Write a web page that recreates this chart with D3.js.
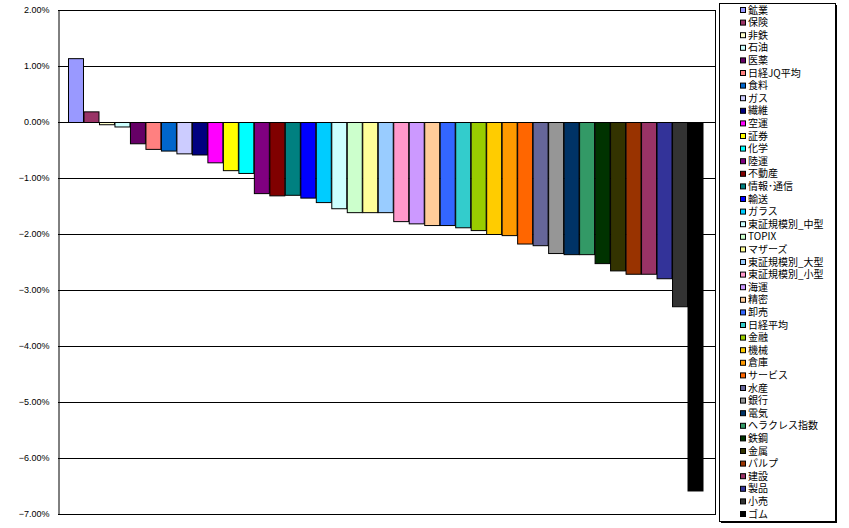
<!DOCTYPE html>
<html><head><meta charset="utf-8">
<script src="https://cdn.jsdelivr.net/npm/d3@7"></script>
<style>body{margin:0;background:#fff}svg{display:block}</style>
</head><body>
<script>
const categories = ["鉱業","保険","非鉄","石油","医薬","日経JQ平均","食料","ガス","繊維","空運","証券","化学","陸運","不動産","情報･通信","輸送","ガラス","東証規模別_中型","TOPIX","マザーズ","東証規模別_大型","東証規模別_小型","海運","精密","卸売","日経平均","金融","機械","倉庫","サービス","水産","銀行","電気","ヘラクレス指数","鉄鋼","金属","パルプ","建設","製品","小売","ゴム"];
const values = [1.14,0.19,-0.04,-0.08,-0.38,-0.48,-0.51,-0.56,-0.58,-0.72,-0.86,-0.91,-1.27,-1.31,-1.30,-1.35,-1.43,-1.54,-1.61,-1.61,-1.61,-1.77,-1.81,-1.84,-1.84,-1.88,-1.93,-2.00,-2.02,-2.17,-2.20,-2.34,-2.36,-2.36,-2.52,-2.65,-2.71,-2.71,-2.79,-3.29,-6.58];
const colors = ["#9999FF","#993366","#FFFFCC","#CCFFFF","#660066","#FF8080","#0066CC","#CCCCFF","#000080","#FF00FF","#FFFF00","#00FFFF","#800080","#800000","#008080","#0000FF","#00CCFF","#CCFFFF","#CCFFCC","#FFFF99","#99CCFF","#FF99CC","#CC99FF","#FFCC99","#3366FF","#33CCCC","#99CC00","#FFCC00","#FF9900","#FF6600","#666699","#969696","#003366","#339966","#003300","#333300","#993300","#993366","#333399","#333333","#000000"];
const yTicks = [2,1,0,-1,-2,-3,-4,-5,-6,-7];

const W=849,H=528;
const svg=d3.select("body").append("svg").attr("width",W).attr("height",H);
const plotL=58,plotR=715,plotT=10,plotB=514;
const y=d3.scaleLinear().domain([-7,2]).range([plotB,plotT]);
const x=d3.scaleBand().domain(categories).range([68,703]).paddingInner(0).paddingOuter(0);

svg.append("g").selectAll("line").data(yTicks).join("line")
  .attr("x1",plotL).attr("x2",plotR)
  .attr("y1",d=>Math.round(y(d))+0.5).attr("y2",d=>Math.round(y(d))+0.5)
  .attr("stroke","#000").attr("stroke-width",1);
svg.append("line").attr("x1",plotR+0.5).attr("x2",plotR+0.5).attr("y1",plotT).attr("y2",plotB+1).attr("stroke","#000");

const axis=d3.axisLeft(y).tickValues(yTicks).tickSize(0).tickPadding(9)
  .tickFormat(d=>d3.format(".2f")(d).replace("-","−")+"%");
const ga=svg.append("g").attr("transform",`translate(${plotL+0.5},0)`).call(axis);
ga.select(".domain").attr("stroke","#000");
ga.selectAll("text").attr("font-family","Liberation Sans, Arial, sans-serif").attr("font-size",9).attr("fill","#000");

svg.append("g").selectAll("rect").data(categories).join("rect")
  .attr("x",d=>x(d)+0.5)
  .attr("y",(d,i)=>Math.min(y(values[i]),y(0))+0.5)
  .attr("width",x.bandwidth()-0.5)
  .attr("height",(d,i)=>Math.abs(y(values[i])-y(0)))
  .attr("fill",(d,i)=>colors[i])
  .attr("stroke","#000").attr("stroke-width",1);

const lg=svg.append("g");
lg.append("rect").attr("x",721).attr("y",5).attr("width",116).attr("height",518).attr("fill","#000");
lg.append("rect").attr("x",719.5).attr("y",3.5).attr("width",116).attr("height",518).attr("fill","#fff").attr("stroke","#000");
const ly=d3.scalePoint().domain(categories).range([10,514]);
const items=lg.selectAll("g").data(categories).join("g").attr("transform",d=>`translate(0,${ly(d)})`);
items.append("rect").attr("x",740.5).attr("y",-2.5).attr("width",5).attr("height",5)
  .attr("fill",(d,i)=>colors[i]).attr("stroke","#000").attr("stroke-width",1);
items.append("text").attr("x",748).attr("y",0).attr("dy","0.36em")
  .attr("font-family","Noto Sans CJK JP, sans-serif").attr("font-size",10).attr("fill","#000").text(d=>d);
</script>
</body></html>
